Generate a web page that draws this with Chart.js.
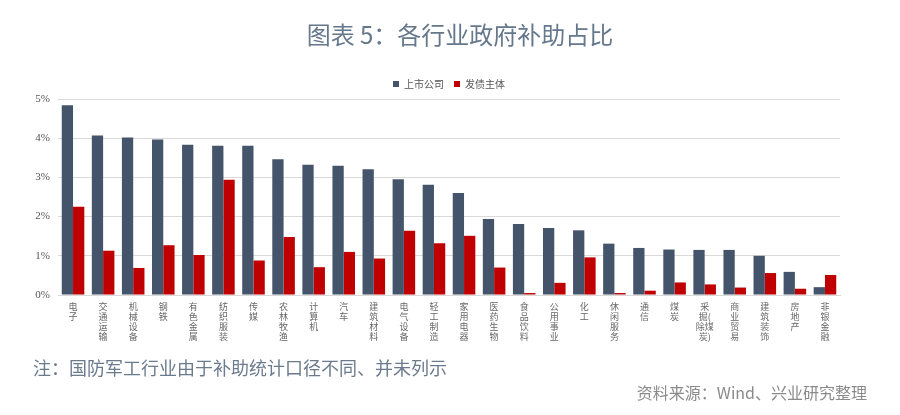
<!DOCTYPE html>
<html>
<head>
<meta charset="utf-8">
<script src="https://cdn.jsdelivr.net/npm/chart.js@4"></script>
<style>
  html, body { margin: 0; padding: 0; background: #ffffff; }
  #wrap { position: relative; width: 900px; height: 415px; overflow: hidden; }
  #chartBox { position: absolute; left: 0; top: 0; width: 900px; height: 415px; }
  .note { position: absolute; font-family: "Noto Sans CJK SC", "Noto Sans", sans-serif; white-space: nowrap; }
  #title { left: 0; width: 920px; text-align: center; top: 16px; font-size: 24px; color: #66788b; }
  #foot { left: 33px; top: 354px; font-size: 18px; color: #6b7b8d; }
  #src { right: 33px; top: 380px; font-size: 16px; color: #8a8a8a; }
</style>
</head>
<body>
<div id="wrap">
  <div id="chartBox"><canvas id="c"></canvas></div>
  <div class="note" id="title">图表 5：各行业政府补助占比</div>
  <div class="note" id="foot">注：国防军工行业由于补助统计口径不同、并未列示</div>
  <div class="note" id="src">资料来源：Wind、兴业研究整理</div>
</div>
<script>
const categories = [
  ['电','子'], ['交','通','运','输'], ['机','械','设','备'], ['钢','铁'], ['有','色','金','属'],
  ['纺','织','服','装'], ['传','媒'], ['农','林','牧','渔'], ['计','算','机'], ['汽','车'],
  ['建','筑','材','料'], ['电','气','设','备'], ['轻','工','制','造'], ['家','用','电','器'], ['医','药','生','物'],
  ['食','品','饮','料'], ['公','用','事','业'], ['化','工'], ['休','闲','服','务'], ['通','信'],
  ['煤','炭'], ['采','掘(','除煤','炭)'], ['商','业','贸','易'], ['建','筑','装','饰'], ['房','地','产'],
  ['非','银','金','融']
];
const listedCompanies = [4.84, 4.07, 4.02, 3.97, 3.83, 3.81, 3.81, 3.46, 3.32, 3.30, 3.21, 2.95, 2.81, 2.60, 1.94, 1.81, 1.71, 1.65, 1.31, 1.20, 1.16, 1.15, 1.15, 1.00, 0.59, 0.20];
const bondIssuers = [2.25, 1.13, 0.69, 1.27, 1.02, 2.94, 0.88, 1.48, 0.71, 1.10, 0.93, 1.64, 1.32, 1.51, 0.70, 0.05, 0.31, 0.96, 0.05, 0.11, 0.32, 0.27, 0.19, 0.56, 0.16, 0.51];
const seriesNames = ['上市公司', '发债主体'];
const yTicks = [0, 1, 2, 3, 4, 5];

new Chart(document.getElementById('c'), {
  type: 'bar',
  data: {
    labels: categories,
    datasets: [
      { label: seriesNames[0], data: listedCompanies, backgroundColor: '#44546a', borderWidth: 0 },
      { label: seriesNames[1], data: bondIssuers, backgroundColor: '#c00000', borderWidth: 0 }
    ]
  },
  options: {
    responsive: true,
    maintainAspectRatio: false,
    animation: false,
    layout: { padding: { left: 0, right: 60, top: 69, bottom: 0 } },
    datasets: { bar: { categoryPercentage: 0.75, barPercentage: 1.0 } },
    plugins: {
      title: { display: false },
      legend: {
        display: true,
        position: 'top',
        fullSize: false,
        labels: {
          color: '#555555',
          boxWidth: 6,
          boxHeight: 6,
          padding: 10,
          font: { family: '"Noto Sans CJK SC", sans-serif', size: 10 }
        }
      },
      tooltip: { enabled: false }
    },
    scales: {
      x: {
        grid: { display: false, drawTicks: false },
        border: { display: true, color: '#d9d9d9', width: 1 },
        ticks: {
          autoSkip: false,
          maxRotation: 0,
          minRotation: 0,
          padding: 7,
          color: '#666666',
          font: { family: '"Noto Sans CJK SC", sans-serif', size: 9, lineHeight: 1.1 }
        },
        afterFit: (s) => { s.height = 120; }
      },
      y: {
        min: 0,
        max: 5,
        afterBuildTicks: (s) => { s.ticks = yTicks.map(v => ({ value: v })); },
        grid: { color: '#d9d9d9', lineWidth: 1, drawTicks: false },
        border: { display: false },
        ticks: {
          padding: 8,
          color: '#555555',
          font: { family: '"Liberation Serif", serif', size: 11 },
          callback: (v) => v + '%'
        },
        afterFit: (s) => { s.width = 58; }
      }
    }
  }
});
</script>
</body>
</html>
